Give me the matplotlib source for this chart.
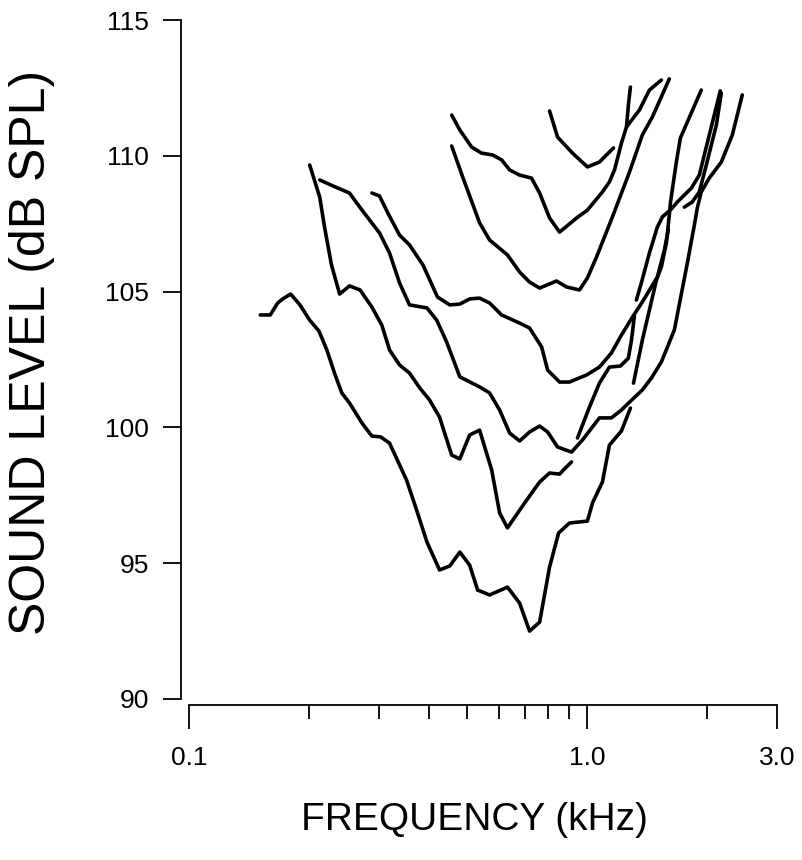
import matplotlib
matplotlib.use("Agg")
import matplotlib.pyplot as plt
from matplotlib.ticker import NullFormatter

plt.rcParams["font.family"] = ["Liberation Sans", "DejaVu Sans"]

# tuning curves: frequency (kHz) and threshold level (dB SPL)
a_f = [0.151, 0.160, 0.167, 0.172, 0.180, 0.190, 0.201, 0.212, 0.222, 0.232, 0.242,
       0.253, 0.272, 0.288, 0.303, 0.319, 0.352, 0.373, 0.396, 0.426, 0.452, 0.479,
       0.507, 0.531, 0.569, 0.631, 0.677, 0.717, 0.760, 0.805, 0.848, 0.903, 1.002,
       1.032, 1.093, 1.138, 1.220, 1.285]
a_db = [104.14, 104.14, 104.58, 104.73, 104.91, 104.51, 103.95, 103.55, 102.85, 102.0,
        101.27, 100.9, 100.16, 99.68, 99.65, 99.42, 98.06, 96.96, 95.78, 94.75, 94.9,
        95.41, 94.93, 94.01, 93.83, 94.12, 93.53, 92.5, 92.83, 94.86, 96.11, 96.48,
        96.55, 97.22, 97.99, 99.35, 99.87, 100.71]

b_f = [0.201, 0.213, 0.219, 0.228, 0.239, 0.253, 0.269, 0.288, 0.305, 0.319, 0.338,
       0.358, 0.380, 0.402, 0.426, 0.457, 0.479, 0.507, 0.537, 0.576, 0.603, 0.631,
       0.697, 0.760, 0.805, 0.853, 0.872, 0.914]
b_db = [109.66, 108.48, 107.38, 105.98, 104.91, 105.21, 105.06, 104.43, 103.77, 102.85,
        102.3, 102.0, 101.45, 101.01, 100.38, 98.98, 98.84, 99.72, 99.9, 98.43, 96.85,
        96.3, 97.22, 97.99, 98.32, 98.28, 98.43, 98.73]

c_f = [0.213, 0.230, 0.253, 0.272, 0.301, 0.319, 0.338, 0.358, 0.396, 0.419, 0.444,
       0.479, 0.537, 0.569, 0.603, 0.639, 0.677, 0.717, 0.760, 0.796, 0.843, 0.914,
       0.974, 1.074, 1.151, 1.220, 1.278, 1.377, 1.451, 1.537, 1.657, 1.786, 1.860,
       1.892, 1.936, 2.028, 2.174, 2.317, 2.454]
c_db = [109.11, 108.89, 108.63, 108.0, 107.16, 106.42, 105.32, 104.51, 104.4, 103.95,
        103.14, 101.86, 101.49, 101.27, 100.64, 99.79, 99.5, 99.83, 100.05, 99.83, 99.28,
        99.09, 99.54, 100.35, 100.35, 100.64, 100.93, 101.38, 101.82, 102.41, 103.59,
        106.05, 107.45, 108.08, 108.67, 109.18, 109.77, 110.77, 112.24]

d_f = [0.288, 0.301, 0.316, 0.338, 0.358, 0.387, 0.421, 0.452, 0.479, 0.507, 0.537,
       0.569, 0.610, 0.677, 0.717, 0.769, 0.796, 0.853, 0.903, 0.997, 1.074, 1.151,
       1.220, 1.300, 1.377, 1.502, 1.564, 1.600]
d_db = [108.63, 108.52, 107.89, 107.08, 106.72, 105.98, 104.8, 104.51, 104.54, 104.73,
        104.76, 104.58, 104.14, 103.84, 103.66, 102.96, 102.11, 101.67, 101.67, 101.93,
        102.22, 102.74, 103.4, 104.06, 104.62, 105.54, 106.53, 107.27]

e_f = [0.457, 0.479, 0.513, 0.543, 0.579, 0.610, 0.639, 0.677, 0.725, 0.760, 0.805,
       0.853, 0.941, 1.002, 1.093, 1.138, 1.172, 1.220, 1.256, 1.270, 1.285]
e_db = [111.5, 110.95, 110.32, 110.1, 110.03, 109.85, 109.48, 109.29, 109.18, 108.63,
        107.71, 107.19, 107.71, 108.0, 108.67, 109.04, 109.48, 110.47, 111.06, 111.87,
        112.53]

e2_f = [1.256, 1.354, 1.434, 1.537]
e2_db = [111.06, 111.69, 112.42, 112.79]

f_f = [0.457, 0.487, 0.537, 0.569, 0.631, 0.677, 0.717, 0.760, 0.838, 0.888, 0.957,
       1.002, 1.056, 1.158, 1.278, 1.377, 1.459, 1.609]
f_db = [110.36, 109.22, 107.53, 106.9, 106.35, 105.72, 105.35, 105.13, 105.39, 105.17,
        105.06, 105.5, 106.27, 107.75, 109.4, 110.77, 111.43, 112.83]

g_f = [0.805, 0.843, 0.919, 1.002, 1.074, 1.165]
g_db = [111.65, 110.69, 110.1, 109.59, 109.77, 110.29]

i_f = [0.946, 1.014, 1.074, 1.138, 1.213, 1.270, 1.293, 1.315]
i_db = [99.61, 100.75, 101.63, 102.22, 102.26, 102.55, 103.22, 104.1]

j_f = [1.308, 1.377, 1.434, 1.494, 1.537, 1.582, 1.609, 1.619, 1.676, 1.716, 1.936]
j_db = [101.63, 103.22, 104.32, 105.43, 105.91, 106.79, 107.82, 108.26, 109.77,
        110.66, 112.42]

k_f = [1.330, 1.369, 1.434, 1.502, 1.546, 1.628, 1.686, 1.828, 1.914, 2.028, 2.161]
k_db = [104.69, 105.32, 106.42, 107.38, 107.75, 108.04, 108.3, 108.81, 109.29, 110.77,
        112.39]

l_f = [1.755, 1.838, 1.914, 1.993, 2.112, 2.174]
l_db = [108.11, 108.3, 108.67, 109.66, 111.13, 112.31]

curves = [(a_f, a_db), (b_f, b_db), (c_f, c_db), (d_f, d_db), (e_f, e_db),
          (e2_f, e2_db), (f_f, f_db), (g_f, g_db), (i_f, i_db), (j_f, j_db),
          (k_f, k_db), (l_f, l_db)]

major_x = [0.1, 1.0, 3.0]
major_x_labels = ["0.1", "1.0", "3.0"]
minor_x = [0.2, 0.3, 0.4, 0.5, 0.6, 0.7, 0.8, 0.9, 2.0]
y_ticks = [90, 95, 100, 105, 110, 115]

fig = plt.figure(figsize=(8.02, 8.60), dpi=100)
ax = fig.add_axes([189 / 802, 1 - 699 / 860, 588 / 802, 679 / 860])

for fx, db in curves:
    ax.plot(fx, db, color="black", lw=2.6, solid_joinstyle="round",
            solid_capstyle="round")

ax.set_xscale("log")
ax.set_xlim(0.1, 3.0)
ax.set_ylim(90, 115)

ax.set_xticks(major_x)
ax.set_xticklabels(major_x_labels)
ax.set_xticks(minor_x, minor=True)
ax.xaxis.set_minor_formatter(NullFormatter())
ax.set_yticks(y_ticks)

for side in ("top", "right"):
    ax.spines[side].set_visible(False)
ax.spines["left"].set_position(("outward", 6))
ax.spines["bottom"].set_position(("outward", 4.5))
ax.spines["left"].set_bounds(90, 115)
ax.spines["bottom"].set_bounds(0.1, 3.0)
for side in ("left", "bottom"):
    ax.spines[side].set_linewidth(1.3)

ax.tick_params(axis="y", which="major", direction="out", length=13, width=1.3,
               labelsize=19, pad=10)
ax.tick_params(axis="x", which="major", direction="out", length=17, width=1.3,
               labelsize=19, pad=12)
ax.tick_params(axis="x", which="minor", direction="out", length=10, width=1.3)

ax.set_xlabel("FREQUENCY (kHz)", fontsize=28)
ax.set_ylabel("SOUND LEVEL (dB SPL)", fontsize=36)
ax.xaxis.set_label_coords(0.485, -0.152)
ax.yaxis.set_label_coords(-0.228, 0.51)

fig.savefig("out.png", dpi=100)
